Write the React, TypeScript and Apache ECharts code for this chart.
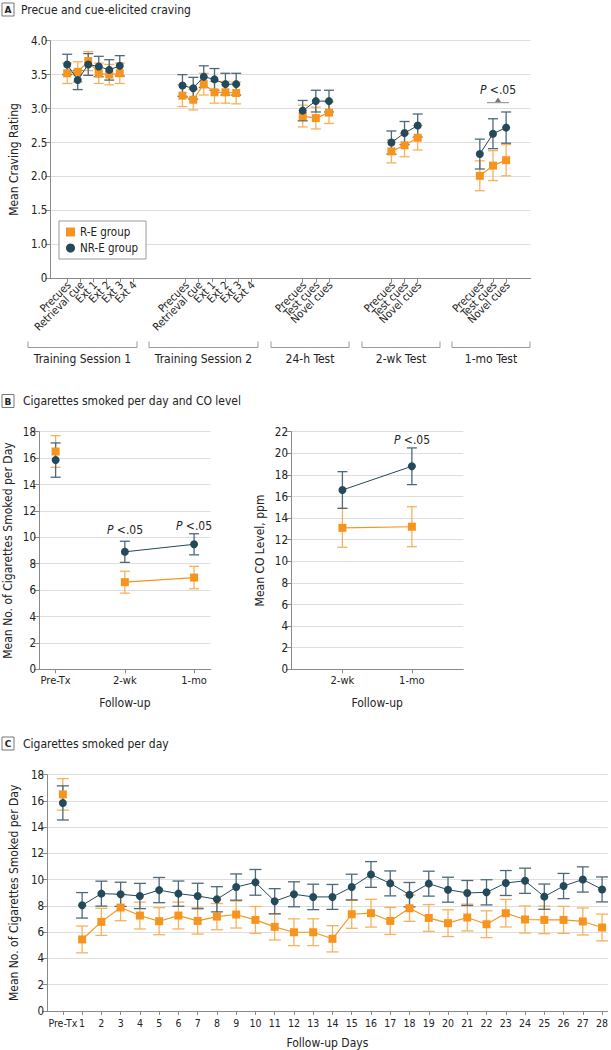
import React, { useEffect, useRef } from 'react';
import * as echarts from 'echarts';

const FONT = '"DejaVu Sans Condensed", "Liberation Sans Narrow", "Noto Sans", sans-serif';
const ORANGE = '#F7941D';
const ORANGE_ERR = '#F8B15A';
const TEAL = '#23495A';
const TEAL_ERR = '#4D6977';
const GRID = '#DEDEDE';
const AXIS = '#8A8A8A';
const TXT = '#222222';

// ---------- Panel A: craving ----------
const craveGroups = ['Training Session 1', 'Training Session 2', '24-h Test', '2-wk Test', '1-mo Test'];
const craveCueLabels = [
  ['Precues', 'Retrieval cue', 'Ext 1', 'Ext 2', 'Ext 3', 'Ext 4'],
  ['Precues', 'Retrieval cue', 'Ext 1', 'Ext 2', 'Ext 3', 'Ext 4'],
  ['Precues', 'Test cues', 'Novel cues'],
  ['Precues', 'Test cues', 'Novel cues'],
  ['Precues', 'Test cues', 'Novel cues'],
];
const craveTickPos = [[0, 1, 2, 3, 4, 5], [9, 10, 11, 12, 13, 14], [17.92, 18.92, 19.92], [24.67, 25.67, 26.67], [31.4, 32.4, 33.4]];
const craveMarkPos = [[0, 0.8, 1.6, 2.4, 3.2, 4.0], [8.77, 9.59, 10.39, 11.21, 12.04, 12.86], [17.92, 18.92, 19.92], [24.67, 25.67, 26.67], [31.4, 32.4, 33.4]];
const craveRE = [[3.52, 3.54, 3.70, 3.52, 3.50, 3.52], [3.19, 3.13, 3.36, 3.24, 3.24, 3.23], [2.89, 2.86, 2.94], [2.37, 2.46, 2.57], [2.01, 2.16, 2.24]];
const craveREerr = [[0.15, 0.15, 0.14, 0.15, 0.15, 0.15], [0.16, 0.15, 0.16, 0.16, 0.16, 0.16], [0.16, 0.16, 0.16], [0.17, 0.17, 0.18], [0.22, 0.22, 0.23]];
const craveNRE = [[3.65, 3.42, 3.65, 3.62, 3.57, 3.63], [3.34, 3.30, 3.47, 3.43, 3.36, 3.36], [2.97, 3.11, 3.11], [2.50, 2.64, 2.75], [2.33, 2.63, 2.72]];
const craveNREerr = [[0.15, 0.14, 0.16, 0.15, 0.15, 0.15], [0.16, 0.16, 0.16, 0.16, 0.16, 0.16], [0.15, 0.16, 0.16], [0.17, 0.17, 0.17], [0.22, 0.22, 0.23]];
const craveYTicks = [0.5, 1.0, 1.5, 2.0, 2.5, 3.0, 3.5, 4.0];

// ---------- Panel B: cigarettes and CO ----------
const cigLabels = ['Pre-Tx', '2-wk', '1-mo'];
const cigRE = [16.5, 6.6, 6.95];
const cigREerr = [1.2, 0.83, 0.85];
const cigNRE = [15.85, 8.9, 9.47];
const cigNREerr = [1.3, 0.8, 0.8];
const coLabels = ['2-wk', '1-mo'];
const coRE = [13.1, 13.2];
const coREerr = [1.8, 1.85];
const coNRE = [16.6, 18.8];
const coNREerr = [1.7, 1.7];

// ---------- Panel C: daily cigarettes ----------
const dayLabels = ['Pre-Tx', '1', '2', '3', '4', '5', '6', '7', '8', '9', '10', '11', '12', '13', '14', '15', '16', '17', '18', '19', '20', '21', '22', '23', '24', '25', '26', '27', '28'];
const dailyRE = [16.5, 5.45, 6.79, 7.88, 7.27, 6.84, 7.27, 6.86, 7.19, 7.35, 6.94, 6.41, 6.0, 6.0, 5.5, 7.37, 7.45, 6.86, 7.83, 7.09, 6.69, 7.12, 6.61, 7.45, 6.97, 6.94, 6.94, 6.82, 6.36];
const dailyREerr = [1.2, 1.02, 1.03, 1.0, 1.02, 1.03, 1.02, 1.0, 1.0, 1.03, 1.02, 1.0, 1.02, 1.02, 1.0, 1.07, 1.06, 1.03, 1.0, 1.02, 1.02, 1.02, 1.02, 1.05, 1.03, 1.05, 1.03, 1.03, 1.02];
const dailyNRE = [15.85, 8.05, 8.94, 8.89, 8.76, 9.21, 8.94, 8.76, 8.51, 9.44, 9.8, 8.36, 8.89, 8.69, 8.69, 9.44, 10.4, 9.72, 8.86, 9.7, 9.24, 8.99, 9.04, 9.75, 9.92, 8.71, 9.52, 10.02, 9.26];
const dailyNREerr = [1.3, 0.97, 0.95, 0.92, 0.96, 0.96, 0.96, 0.97, 0.96, 1.0, 0.98, 0.96, 0.95, 0.97, 0.95, 0.98, 0.98, 0.95, 0.93, 0.95, 0.95, 0.95, 0.96, 0.95, 0.96, 0.96, 0.96, 0.96, 0.95];

const errSeries = (name: string, data: number[][], color: string, cap: number, xi: number, z: number) => ({
  type: 'custom',
  name,
  xAxisIndex: xi,
  yAxisIndex: xi,
  z,
  silent: true,
  data,
  encode: { x: 0, y: [1, 2] },
  renderItem: (params: any, api: any) => {
    const x = api.value(0);
    const lo = api.coord([x, api.value(1)]);
    const hi = api.coord([x, api.value(2)]);
    const st = { stroke: color, lineWidth: 1.3 };
    return {
      type: 'group',
      children: [
        { type: 'line', shape: { x1: lo[0], y1: lo[1], x2: hi[0], y2: hi[1] }, style: st },
        { type: 'line', shape: { x1: lo[0] - cap, y1: lo[1], x2: lo[0] + cap, y2: lo[1] }, style: st },
        { type: 'line', shape: { x1: hi[0] - cap, y1: hi[1], x2: hi[0] + cap, y2: hi[1] }, style: st },
      ],
    };
  },
});

const lineSeries = (name: string, data: any[], color: string, symbol: string, xi: number, z: number, lw = 1.2) => ({
  type: 'line',
  name,
  xAxisIndex: xi,
  yAxisIndex: xi,
  z,
  data,
  symbol,
  symbolSize: 8,
  itemStyle: { color },
  lineStyle: { color, width: lw },
  connectNulls: false,
});

const axisLine = { show: true, onZero: false, lineStyle: { color: AXIS, width: 1 } };
const tickStyle = { show: true, length: 4, lineStyle: { color: AXIS } };
const labelStyle = { color: TXT, fontFamily: FONT, fontSize: 11, showMinLabel: true, showMaxLabel: true, hideOverlap: false };
const nameStyle = { color: TXT, fontFamily: FONT, fontSize: 12 };

const App: React.FC = () => {
  const ref = useRef<HTMLDivElement>(null);
  useEffect(() => {
    document.body.style.margin = '0';
    if (!ref.current) return;
    const chart = echarts.init(ref.current, null, { renderer: 'svg' });

    const craveTicksFlat: number[] = [];
    const craveLabelsFlat: string[] = [];
    craveTickPos.forEach((g, gi) => g.forEach((p, i) => { craveTicksFlat.push(p); craveLabelsFlat.push(craveCueLabels[gi][i]); }));

    const series: any[] = [];
    // Panel A
    const aErrRE: number[][] = [];
    const aErrNRE: number[][] = [];
    craveMarkPos.forEach((g, gi) => {
      g.forEach((x, i) => {
        aErrRE.push([x, craveRE[gi][i] - craveREerr[gi][i], craveRE[gi][i] + craveREerr[gi][i]]);
        aErrNRE.push([x, craveNRE[gi][i] - craveNREerr[gi][i], craveNRE[gi][i] + craveNREerr[gi][i]]);
      });
    });
    series.push(errSeries('errA1', aErrRE, ORANGE_ERR, 5, 0, 2));
    series.push(errSeries('errA2', aErrNRE, TEAL_ERR, 5, 0, 3));
    craveMarkPos.forEach((g, gi) => {
      series.push(lineSeries('R-E group', g.map((x, i) => [x, craveRE[gi][i]]), ORANGE, 'rect', 0, 4));
      series.push(lineSeries('NR-E group', g.map((x, i) => [x, craveNRE[gi][i]]), TEAL, 'circle', 0, 5, 1));
    });

    // Panel B left
    const bErrRE = cigRE.map((v, i) => [i, v - cigREerr[i], v + cigREerr[i]]);
    const bErrNRE = cigNRE.map((v, i) => [i, v - cigNREerr[i], v + cigNREerr[i]]);
    series.push(errSeries('errB1', bErrRE, ORANGE_ERR, 5, 1, 2));
    series.push(errSeries('errB2', bErrNRE, TEAL_ERR, 5, 1, 3));
    series.push(lineSeries('R-E group', [[0, cigRE[0]]], ORANGE, 'rect', 1, 4));
    series.push(lineSeries('NR-E group', [[0, cigNRE[0]]], TEAL, 'circle', 1, 5));
    series.push(lineSeries('R-E group', [[1, cigRE[1]], [2, cigRE[2]]], ORANGE, 'rect', 1, 4));
    series.push(lineSeries('NR-E group', [[1, cigNRE[1]], [2, cigNRE[2]]], TEAL, 'circle', 1, 5, 1));

    // Panel B right
    const cErrRE = coRE.map((v, i) => [i + 1, v - coREerr[i], v + coREerr[i]]);
    const cErrNRE = coNRE.map((v, i) => [i + 1, v - coNREerr[i], v + coNREerr[i]]);
    series.push(errSeries('errB3', cErrRE, ORANGE_ERR, 5, 2, 2));
    series.push(errSeries('errB4', cErrNRE, TEAL_ERR, 5, 2, 3));
    series.push(lineSeries('R-E group', coRE.map((v, i) => [i + 1, v]), ORANGE, 'rect', 2, 4));
    series.push(lineSeries('NR-E group', coNRE.map((v, i) => [i + 1, v]), TEAL, 'circle', 2, 5, 1));

    // Panel C
    const dErrRE = dailyRE.map((v, i) => [i, v - dailyREerr[i], v + dailyREerr[i]]);
    const dErrNRE = dailyNRE.map((v, i) => [i, v - dailyNREerr[i], v + dailyNREerr[i]]);
    series.push(errSeries('errC1', dErrRE, ORANGE_ERR, 6, 3, 2));
    series.push(errSeries('errC2', dErrNRE, TEAL_ERR, 6, 3, 3));
    series.push(lineSeries('R-E group', [[0, dailyRE[0]]], ORANGE, 'rect', 3, 4));
    series.push(lineSeries('NR-E group', [[0, dailyNRE[0]]], TEAL, 'circle', 3, 5));
    series.push(lineSeries('R-E group', dailyRE.slice(1).map((v, i) => [i + 1, v]), ORANGE, 'rect', 3, 4));
    series.push(lineSeries('NR-E group', dailyNRE.slice(1).map((v, i) => [i + 1, v]), TEAL, 'circle', 3, 5, 1));

    const yBase = (min: number, max: number, interval: number, name: string, nameGap: number, fmt?: any) => ({
      type: 'value', min, max, interval,
      name, nameLocation: 'middle', nameGap,
      nameTextStyle: nameStyle,
      axisLine, axisTick: { show: true, length: 5, lineStyle: { color: AXIS } },
      axisLabel: { ...labelStyle, fontSize: 11.5, margin: 3, formatter: fmt },
      splitLine: { show: true, lineStyle: { color: GRID, width: 1 } },
    });

    const pText = (x: number, y: number) => ({
      type: 'text', x, y,
      style: {
        text: '{i|P} <.05', align: 'center', verticalAlign: 'middle',
        fontFamily: FONT, fontSize: 12, fill: TXT,
        rich: { i: { fontStyle: 'italic', fontFamily: FONT, fontSize: 12, fill: TXT } },
      },
    });

    const header = (letter: string, title: string, y: number, x0: number) => ([
      { type: 'rect', shape: { x: 2, y: y - 6.5, width: 12, height: 13 }, style: { fill: '#fff', stroke: '#777', lineWidth: 1 } },
      { type: 'text', x: 8, y: y + 0.5, style: { text: letter, align: 'center', verticalAlign: 'middle', fontFamily: 'DejaVu Sans', fontWeight: 'bold', fontSize: 9, fill: TXT } },
      { type: 'text', x: x0, y, style: { text: title, verticalAlign: 'middle', fontFamily: FONT, fontSize: 12, fill: TXT } },
    ]);

    const brackets: any[] = [];
    const bracketSpans = [[28, 137], [149, 258], [271, 349], [362, 440], [452, 530]];
    bracketSpans.forEach((s, i) => {
      brackets.push({ type: 'polyline', shape: { points: [[s[0], 341.5], [s[0], 347.5], [s[1], 347.5], [s[1], 341.5]] }, style: { stroke: '#999', fill: null, lineWidth: 1 } });
      brackets.push({ type: 'text', x: (s[0] + s[1]) / 2, y: 358.5, style: { text: craveGroups[i], align: 'center', verticalAlign: 'middle', fontFamily: FONT, fontSize: 12, fill: TXT } });
    });

    const baseGraphics: any[] = [
      ...header('A', 'Precue and cue-elicited craving', 9.5, 21),
      ...header('B', 'Cigarettes smoked per day and CO level', 401, 23),
      ...header('C', 'Cigarettes smoked per day', 743.5, 23),
      ...brackets,
      pText(498, 89.5),
      { type: 'line', shape: { x1: 487, y1: 102.7, x2: 509, y2: 102.7 }, style: { stroke: '#888', lineWidth: 1 } },
      { type: 'polygon', shape: { points: [[495, 102], [501, 102], [498, 97.5]] }, style: { fill: '#777' } },
      pText(125, 529.5),
      pText(194, 525.5),
      pText(412, 439.5),
    ];

    const option: any = {
      animation: false,
      backgroundColor: '#fff',
      textStyle: { fontFamily: FONT },
      legend: {
        show: true,
        left: 59, top: 221,
        orient: 'vertical',
        padding: [5, 8, 5, 7],
        itemGap: 4,
        itemWidth: 9, itemHeight: 9,
        borderColor: '#999', borderWidth: 1,
        backgroundColor: '#fff',
        textStyle: { color: TXT, fontFamily: FONT, fontSize: 11.5 },
        data: [{ name: 'R-E group', icon: 'rect' }, { name: 'NR-E group', icon: 'circle' }],
        selectedMode: false,
      },
      grid: [
        { left: 38, top: 40.7, width: 492.7, height: 237.6 },
        { left: 39, top: 431.7, width: 171.7, height: 237.6 },
        { left: 291, top: 431.7, width: 172.3, height: 237.6 },
        { left: 39, top: 774.7, width: 572, height: 237.6 },
      ],
      xAxis: [
        {
          gridIndex: 0, type: 'value', min: -1.283, max: 35.27,
          axisLine, splitLine: { show: false },
          axisTick: { ...tickStyle, customValues: craveTicksFlat },
          axisLabel: { show: false },
        },
        {
          gridIndex: 1, type: 'value', min: -0.24, max: 2.24,
          axisLine, splitLine: { show: false },
          axisTick: { ...tickStyle, customValues: [0, 1, 2] },
          axisLabel: { ...labelStyle, margin: 6, customValues: [0, 1, 2], formatter: (v: number) => cigLabels[Math.round(v)] ?? '' },
          name: 'Follow-up', nameLocation: 'middle', nameGap: 28,
          nameTextStyle: nameStyle,
        },
        {
          gridIndex: 2, type: 'value', min: 0.26, max: 2.74,
          axisLine, splitLine: { show: false },
          axisTick: { ...tickStyle, customValues: [1, 2] },
          axisLabel: { ...labelStyle, margin: 6, customValues: [1, 2], formatter: (v: number) => coLabels[Math.round(v) - 1] ?? '' },
          name: 'Follow-up', nameLocation: 'middle', nameGap: 28,
          nameTextStyle: nameStyle,
        },
        {
          gridIndex: 3, type: 'value', min: -0.82, max: 28.29,
          axisLine, splitLine: { show: false },
          axisTick: { ...tickStyle, customValues: dayLabels.map((_, i) => i) },
          axisLabel: { ...labelStyle, fontSize: 10.5, margin: 6, customValues: dayLabels.map((_, i) => i), formatter: (v: number) => dayLabels[Math.round(v)] ?? '' },
          name: 'Follow-up Days', nameLocation: 'middle', nameGap: 26,
          nameTextStyle: nameStyle,
        },
      ],
      yAxis: [
        { gridIndex: 0, ...yBase(craveYTicks[0], craveYTicks[craveYTicks.length - 1], 0.5, 'Mean Craving Rating', 30, (v: number) => (v <= 0.5 ? '0' : v.toFixed(1))) },
        { gridIndex: 1, ...yBase(0, 18, 2, 'Mean No. of Cigarettes Smoked per Day', 25) },
        { gridIndex: 2, ...yBase(0, 22, 2, 'Mean CO Level, ppm', 25) },
        { gridIndex: 3, ...yBase(0, 18, 2, 'Mean No. of Cigarettes Smoked per Day', 25) },
      ],
      graphic: baseGraphics,
      series,
    };
    chart.setOption(option);

    // rotated cue labels for panel A, placed through the axis scale
    const axisY = chart.convertToPixel({ yAxisIndex: 0 }, craveYTicks[0]) as number;
    const cueLabels = craveTicksFlat.map((p, i) => {
      const px = chart.convertToPixel({ xAxisIndex: 0 }, p) as number;
      return {
        type: 'text',
        x: px + 2,
        y: axisY + 5,
        rotation: Math.PI / 4,
        style: { text: craveLabelsFlat[i], align: 'right', verticalAlign: 'middle', fontFamily: FONT, fontSize: 11, fill: TXT },
      };
    });
    chart.setOption({ graphic: [...baseGraphics, ...cueLabels] });
    return () => chart.dispose();
  }, []);
  return <div ref={ref} style={{ width: 611, height: 1050 }} />;
};

export default App;
